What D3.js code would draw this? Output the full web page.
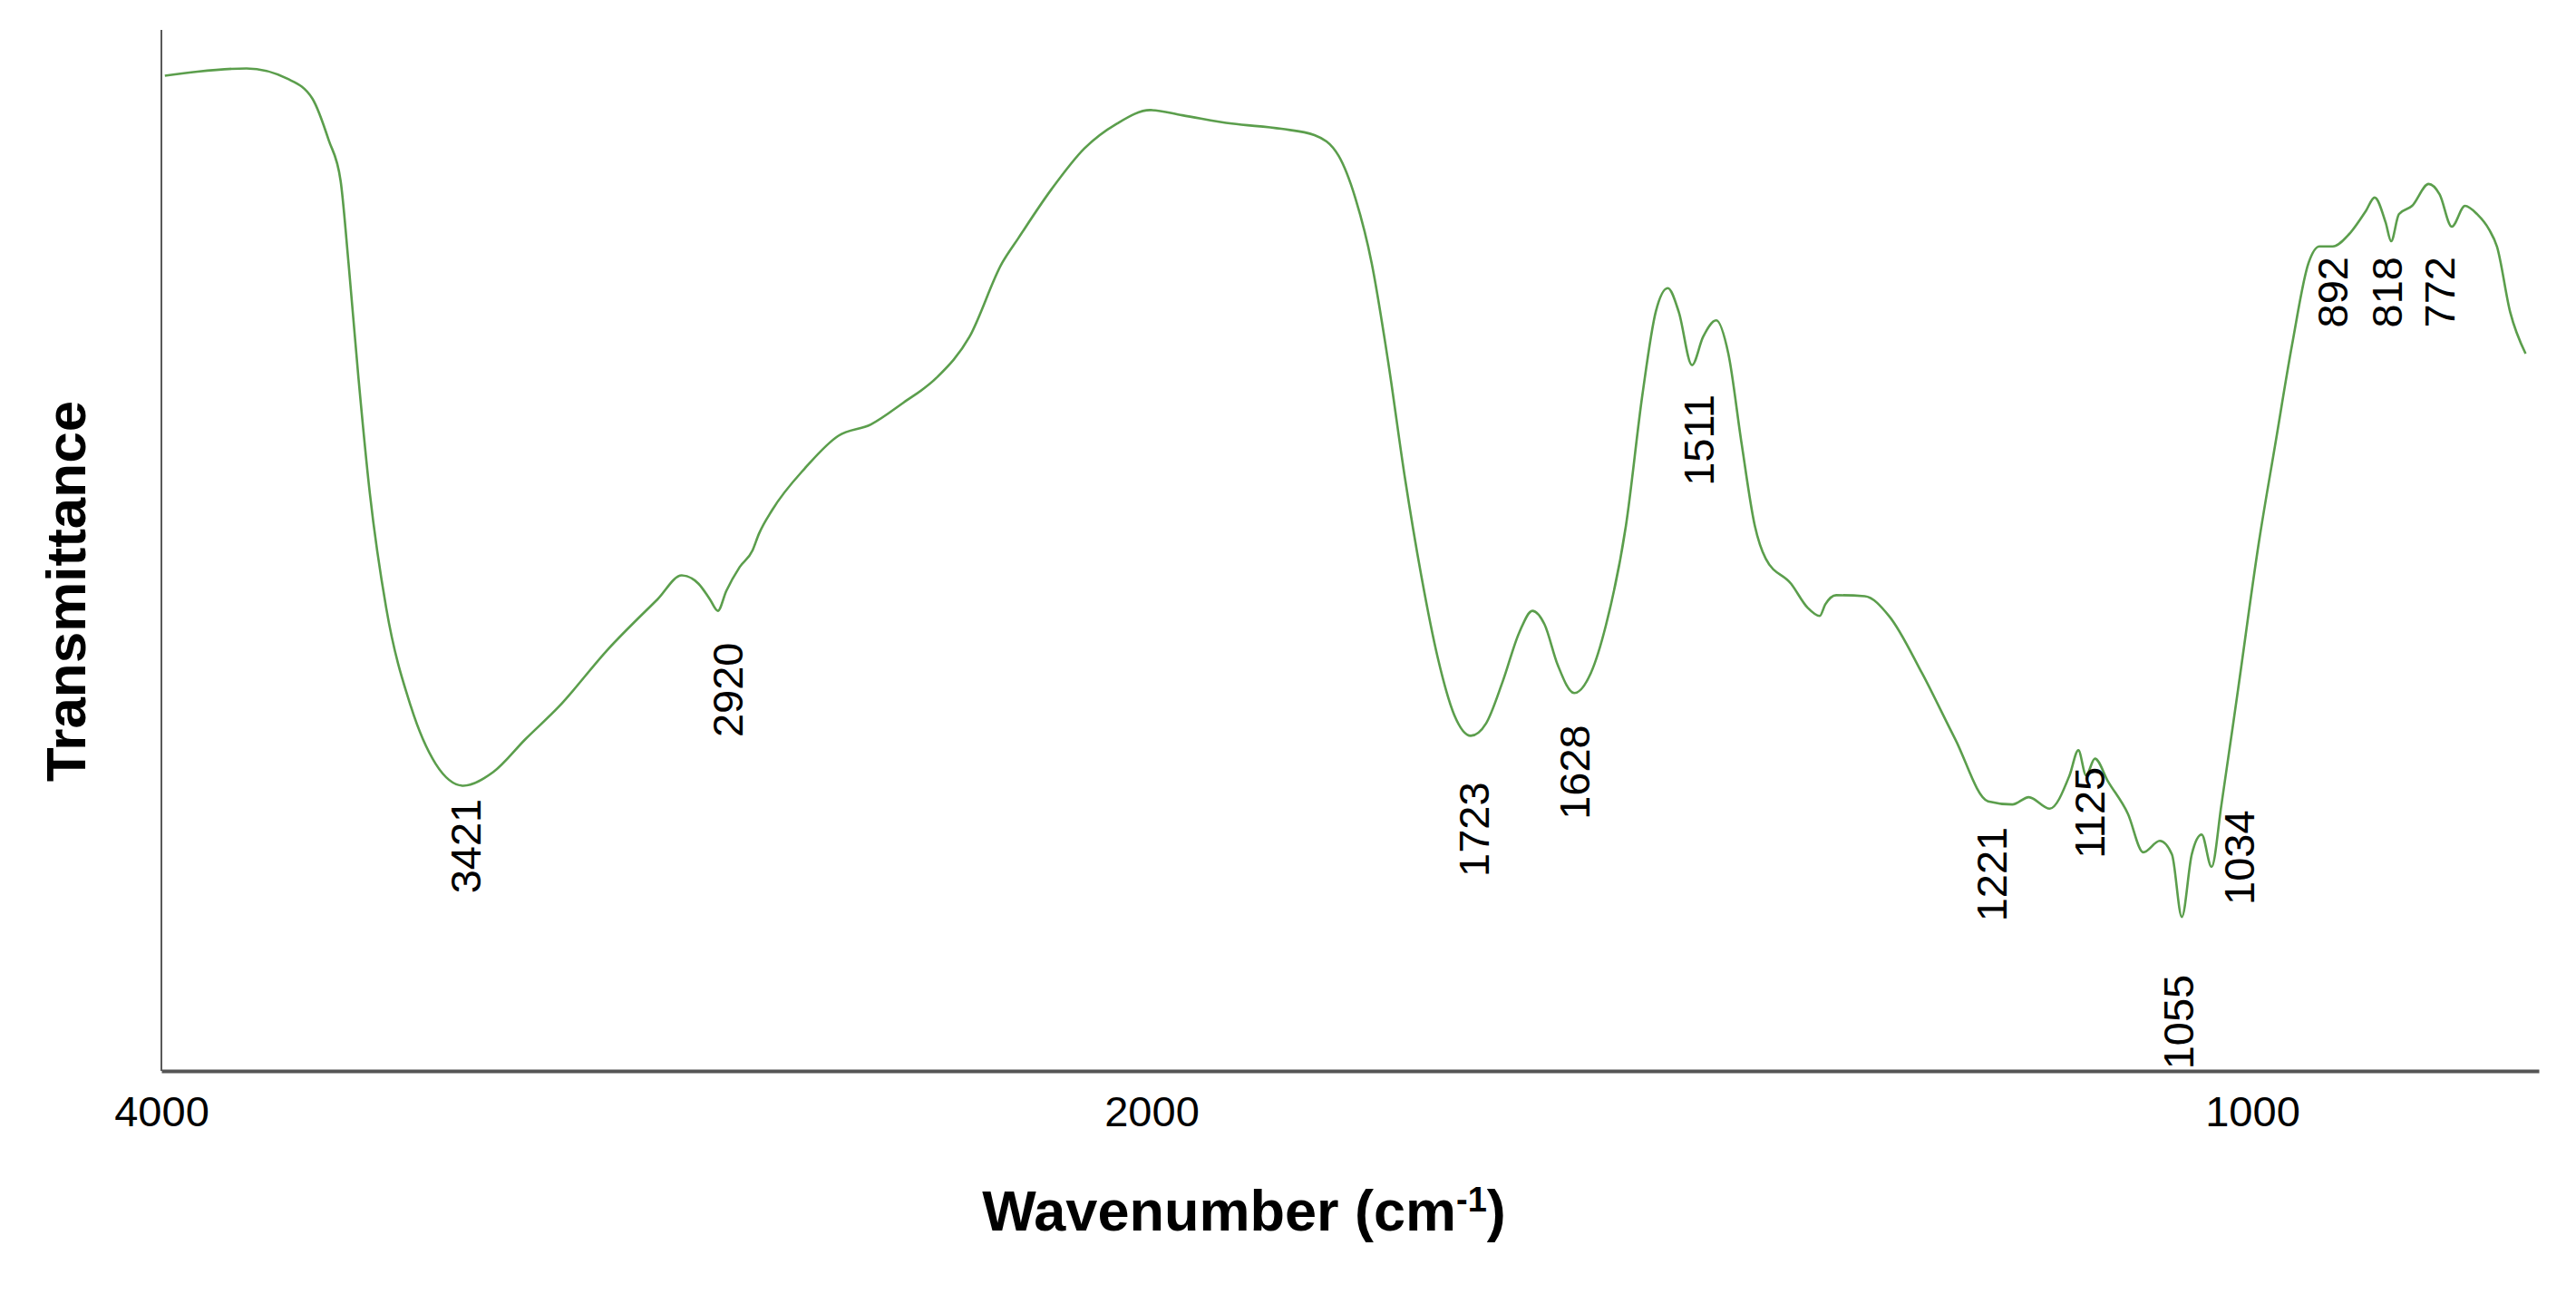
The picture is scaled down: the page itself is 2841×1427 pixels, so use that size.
<!DOCTYPE html>
<html>
<head>
<meta charset="utf-8">
<script src="https://cdn.jsdelivr.net/npm/d3@7"></script>
<style>body{margin:0;background:#fff;}</style>
</head>
<body>
<script>
// spectrum: wavenumber (cm-1) and transmittance (arbitrary %)
var wavenumber = [3993,3927,3828,3745,3695,3662,3638,3622,3602,3579,3546,3496,3446,3390,3330,3264,3197,3098,2998,2949,2915,2892,2876,2859,2832,2806,2793,2766,2700,2633,2567,2501,2434,2368,2302,2269,2202,2136,2070,2003,1972,1927,1882,1852,1830,1815,1800,1785,1770,1755,1740,1725,1710,1696,1681,1666,1654,1643,1631,1616,1601,1587,1569,1554,1542,1531,1521,1509,1499,1487,1476,1464,1452,1442,1419,1404,1393,1388,1378,1352,1330,1300,1270,1240,1218,1203,1184,1166,1158,1151,1143,1131,1113,1099,1084,1073,1064,1055,1046,1037,1028,1013,994,979,964,949,939,927,912,897,889,879,874,867,855,840,830,819,807,796,785,778,766,752];
var transmittance = [95.6,96.0,96.3,95.3,93.4,89.4,85.5,77.6,66.6,55.5,44.5,35.0,29.5,27.4,28.7,31.9,35.0,40.5,45.3,47.6,46.8,45.3,44.2,46.1,48.4,50.0,51.6,53.9,57.9,61.0,62.1,64.2,66.6,70.5,77.6,80.0,84.7,88.6,91.0,92.3,91.8,91.0,90.5,89.9,87.9,83.9,77.6,68.1,57.1,47.6,39.7,34.2,32.2,33.4,37.4,42.1,44.2,42.9,39.0,36.3,38.2,42.9,52.4,65.0,72.9,75.2,72.9,67.8,70.5,72.1,68.9,60.3,52.4,49.2,46.8,44.5,43.7,44.8,45.7,45.6,43.7,38.2,31.9,25.9,25.6,26.3,25.2,28.4,30.8,28.4,30.0,27.8,24.7,21.0,22.1,20.8,14.8,20.8,22.7,19.6,25.6,36.6,50.8,60.3,69.7,77.6,79.2,79.2,80.4,82.6,83.9,81.5,79.7,82.3,83.1,85.2,84.2,81.1,83.1,82.3,80.8,79.2,72.9,68.9];

// peak labels: text, and where the label sits on the plot
var peakText = ["3421","2920","1723","1628","1511","1221","1125","1055","1034","892","818","772"];
var peakAtWn = [3386,2856,1707,1616,1503,1237,1148,1067,1012,927,878,830];
var peakAtT  = [21.6,36.6,23.2,28.7,60.6,18.9,24.8,4.7,20.5,74.8,74.8,74.8];

var tickValues = [4000, 2000, 1000];

var W = 2841, H = 1427;
var svg = d3.select("body").append("svg")
    .attr("width", W)
    .attr("height", H);

// the instrument plot compresses 4000-2000 relative to 2000-740
var x = d3.scaleLinear()
    .domain([4000, 2000, 1000, 740])
    .range([178, 1270, 2484, 2800]);
var y = d3.scaleLinear()
    .domain([0, 100])
    .range([1181, 33]);

var pts = wavenumber.map(function(d, i) { return [d, transmittance[i]]; });

svg.append("path")
   .datum(pts)
   .attr("fill", "none")
   .attr("stroke", "#5b9e4c")
   .attr("stroke-width", 2.6)
   .attr("stroke-linejoin", "round")
   .attr("d", d3.line()
       .x(function(d) { return x(d[0]); })
       .y(function(d) { return y(d[1]); })
       .curve(d3.curveMonotoneX));

// axes
svg.append("line")
   .attr("x1", 178).attr("x2", 178)
   .attr("y1", 33).attr("y2", 1181)
   .attr("stroke", "#222").attr("stroke-width", 1.5);

var xAxis = svg.append("g")
   .attr("transform", "translate(0,1181)")
   .call(d3.axisBottom(x).tickValues(tickValues).tickSize(0).tickPadding(28).tickFormat(d3.format("d")));
xAxis.select(".domain").attr("stroke", "#555").attr("stroke-width", 4);
xAxis.selectAll("text")
   .attr("font-family", "Liberation Sans, Arial, sans-serif")
   .attr("font-size", "47px")
   .attr("fill", "#000");

svg.append("text")
   .attr("x", 1372).attr("y", 1357)
   .attr("text-anchor", "middle")
   .attr("font-family", "Liberation Sans, Arial, sans-serif")
   .attr("font-size", "63px")
   .attr("font-weight", "bold")
   .text("Wavenumber (cm")
   .append("tspan").attr("baseline-shift", "super").attr("font-size", "38px").text("-1")
   .select(function() { return this.parentNode; })
   .append("tspan").text(")");

svg.append("text")
   .attr("transform", "translate(94,652) rotate(-90)")
   .attr("text-anchor", "middle")
   .attr("font-family", "Liberation Sans, Arial, sans-serif")
   .attr("font-size", "62px")
   .attr("font-weight", "bold")
   .text("Transmittance");

svg.selectAll("text.peak")
   .data(peakText)
   .enter()
   .append("text")
   .attr("class", "peak")
   .attr("transform", function(d, i) {
        return "translate(" + x(peakAtWn[i]) + "," + y(peakAtT[i]) + ") rotate(-90)";
   })
   .attr("text-anchor", "middle")
   .attr("dy", "0.35em")
   .attr("font-family", "Liberation Sans, Arial, sans-serif")
   .attr("font-size", "47px")
   .attr("fill", "#000")
   .text(function(d) { return d; });
</script>
</body>
</html>
